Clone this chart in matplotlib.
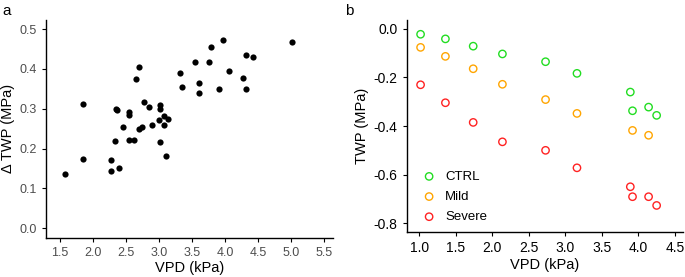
import matplotlib
matplotlib.use("Agg")
import matplotlib.pyplot as plt
import numpy as np

plt.rcParams['font.family'] = ['Liberation Sans', 'DejaVu Sans']

# panel a data
vpd_a = [1.58, 1.85, 1.85, 2.27, 2.27, 2.39, 2.33, 2.35, 2.36, 2.45, 2.54, 2.54,
         2.54, 2.62, 2.65, 2.69, 2.70, 2.74, 2.77, 2.85, 2.90, 3.00, 3.01, 3.02,
         3.02, 3.07, 3.08, 3.11, 3.14, 3.31, 3.34, 3.54, 3.60, 3.61, 3.75, 3.78,
         3.91, 3.96, 4.06, 4.27, 4.31, 4.31, 4.42, 5.01]
dtwp = [0.135, 0.311, 0.174, 0.171, 0.143, 0.150, 0.219, 0.299, 0.296, 0.253, 0.292, 0.283,
        0.222, 0.222, 0.375, 0.406, 0.250, 0.254, 0.317, 0.304, 0.260, 0.271, 0.309, 0.300,
        0.216, 0.282, 0.259, 0.180, 0.273, 0.390, 0.354, 0.418, 0.364, 0.339, 0.418, 0.454,
        0.350, 0.473, 0.395, 0.377, 0.436, 0.349, 0.429, 0.467]

# panel b data
vpd_b = [1.02, 1.36, 1.74, 2.14, 2.73, 3.16, 3.89, 3.92, 4.14, 4.25]
ctrl = [-0.022, -0.041, -0.071, -0.103, -0.135, -0.183, -0.260, -0.337, -0.322, -0.356]
vpd_mild = [1.02, 1.36, 1.74, 2.14, 2.73, 3.16, 3.92, 4.14]
mild = [-0.076, -0.113, -0.164, -0.228, -0.291, -0.348, -0.418, -0.438]
severe = [-0.230, -0.304, -0.385, -0.465, -0.500, -0.572, -0.650, -0.691, -0.691, -0.727]

xt_a = [1.5, 2.0, 2.5, 3.0, 3.5, 4.0, 4.5, 5.0, 5.5]
yt_a = [0.0, 0.1, 0.2, 0.3, 0.4, 0.5]
xt_b = [1.0, 1.5, 2.0, 2.5, 3.0, 3.5, 4.0, 4.5]
yt_b = [-0.8, -0.6, -0.4, -0.2, 0.0]

fig = plt.figure(figsize=(6.85, 2.77), dpi=100)

# --- a ---
ax1 = fig.add_axes([0.0672, 0.142, 0.4188, 0.786])
ax1.scatter(vpd_a, dtwp, s=20, color='black', linewidths=0, zorder=3)
ax1.set_xlim(1.29, 5.63)
ax1.set_ylim(-0.024, 0.523)
ax1.set_xticks(xt_a)
ax1.set_yticks(yt_a)
ax1.set_xticklabels(['%.1f' % v for v in xt_a])
ax1.set_yticklabels(['%.1f' % v for v in yt_a])
ax1.tick_params(labelsize=9, labelcolor='#4d4d4d', color='black', length=3, width=0.8)
ax1.set_xlabel('VPD (kPa)', fontsize=10.5, labelpad=2)
ax1.set_ylabel('Δ TWP (MPa)', fontsize=10.5, labelpad=3)
for s in ['top', 'right']:
    ax1.spines[s].set_visible(False)
for s in ['left', 'bottom']:
    ax1.spines[s].set_linewidth(1.0)

# --- b ---
ax2 = fig.add_axes([0.5937, 0.161, 0.4033, 0.767])
ax2.scatter(vpd_b, ctrl, s=28, facecolors='none', edgecolors='#22dd22', linewidths=1.0, label='CTRL')
ax2.scatter(vpd_mild, mild, s=28, facecolors='none', edgecolors='#ffa500', linewidths=1.0, label='Mild')
ax2.scatter(vpd_b, severe, s=28, facecolors='none', edgecolors='#ff2222', linewidths=1.0, label='Severe')
ax2.set_xlim(0.83, 4.61)
ax2.set_ylim(-0.838, 0.037)
ax2.set_xticks(xt_b)
ax2.set_yticks(yt_b)
ax2.set_xticklabels(['%.1f' % v for v in xt_b])
ax2.set_yticklabels([('%.1f' % v).replace('-0.0', '0.0') for v in yt_b])
ax2.tick_params(labelsize=10, colors='black', length=3, width=0.8)
ax2.set_xlabel('VPD (kPa)', fontsize=10.5, labelpad=2)
ax2.set_ylabel('TWP (MPa)', fontsize=10.5, labelpad=3)
for s in ['top', 'right']:
    ax2.spines[s].set_visible(False)
for s in ['left', 'bottom']:
    ax2.spines[s].set_linewidth(1.0)
ax2.legend(loc='lower left', frameon=False, fontsize=9.5, handletextpad=0.2,
           borderaxespad=0.3, labelspacing=0.6, bbox_to_anchor=(0.0, 0.0))

fig.text(0.003, 0.985, 'a', fontsize=11, va='top', ha='left')
fig.text(0.503, 0.985, 'b', fontsize=11, va='top', ha='left')

fig.savefig('out.png', dpi=100)
